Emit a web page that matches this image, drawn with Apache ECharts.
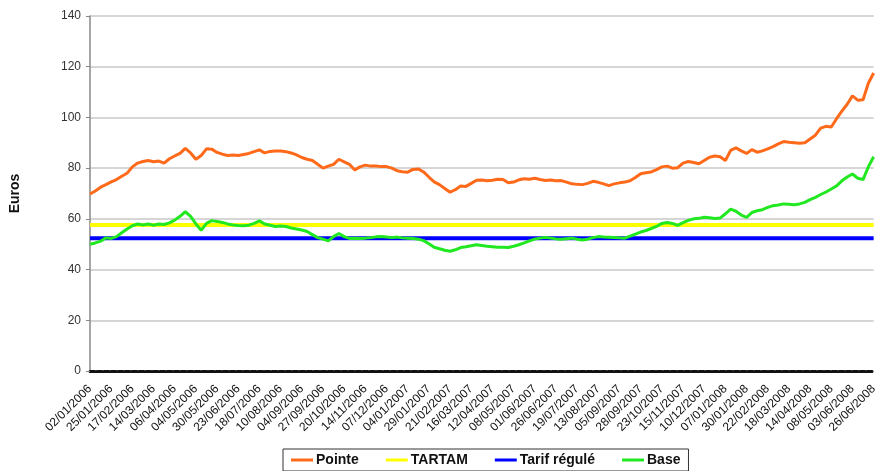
<!DOCTYPE html>
<html>
<head>
<meta charset="utf-8">
<script src="https://cdn.jsdelivr.net/npm/echarts@6/dist/echarts.min.js"></script>
<style>
html,body{margin:0;padding:0;background:#fff;}
#chart{width:880px;height:471px;}
</style>
</head>
<body>
<div id="chart"></div>
<script>
// Tick labels along the x axis (one every 4 samples)
var tickLabels = ["02/01/2006","25/01/2006","17/02/2006","14/03/2006","06/04/2006","04/05/2006","30/05/2006","23/06/2006","18/07/2006","10/08/2006","04/09/2006","27/09/2006","20/10/2006","14/11/2006","07/12/2006","04/01/2007","29/01/2007","21/02/2007","16/03/2007","12/04/2007","08/05/2007","01/06/2007","26/06/2007","19/07/2007","13/08/2007","05/09/2007","28/09/2007","23/10/2007","15/11/2007","10/12/2007","07/01/2008","30/01/2008","22/02/2008","18/03/2008","14/04/2008","08/05/2008","03/06/2008","26/06/2008"];
var samplesPerLabel = 4;

var seriesNames = ["Pointe","TARTAM","Tarif régulé","Base"];

var pointe = [69.8,71,72.5,73.5,74.6,75.5,76.8,78,80.5,82,82.6,83,82.5,82.8,82,83.7,84.8,85.8,87.8,86,83.5,85,87.6,87.5,86.2,85.5,85,85.2,85,85.4,85.8,86.5,87.2,86,86.6,86.8,86.8,86.5,86,85.2,84.2,83.5,83,81.5,80,80.8,81.5,83.5,82.5,81.5,79.3,80.5,81.2,80.8,80.8,80.6,80.6,80,79,78.6,78.4,79.5,79.7,78.5,76.5,74.6,73.5,72,70.5,71.5,73,72.8,74,75.2,75.3,75,75.2,75.6,75.5,74.2,74.5,75.4,75.8,75.6,76,75.5,75.1,75.3,75,75.1,74.5,73.8,73.6,73.5,74,74.8,74.4,73.8,73.1,73.8,74.2,74.5,75,76.3,77.8,78.2,78.5,79.4,80.5,80.8,80,80.2,82,82.6,82.2,81.7,83,84.3,84.8,84.5,83,87,88,86.8,85.8,87.3,86.3,86.8,87.6,88.5,89.6,90.5,90.2,90,89.8,90,91.5,93,95.8,96.5,96.2,99.5,102.5,105.2,108.5,106.8,107,113.5,117.5];

var base = [50,50.5,51.2,52.5,52.3,53,54.5,56,57.3,58,57.6,58,57.5,58,57.8,58.4,59.5,61,62.8,61,58,55.5,58.2,59.3,59,58.6,58,57.6,57.4,57.3,57.5,58.2,59.2,58,57.5,57,57.2,57,56.4,56,55.6,55,53.8,52.6,52,51.3,53,54.2,53,52.3,52.4,52.3,52.4,52.6,52.9,53,52.8,52.6,52.8,52.5,52.4,52.3,52,51.4,50.2,48.8,48.2,47.6,47.2,47.8,48.7,49,49.4,49.8,49.5,49.2,49,48.8,48.8,48.7,49.2,49.8,50.5,51.3,52,52.4,52.7,52.4,52.1,52,52.2,52.4,52,51.7,52,52.6,53,52.8,52.7,52.6,52.5,52.4,53.2,54,54.8,55.4,56.2,57,58.2,58.6,58.2,57.4,58.5,59.4,60,60.2,60.6,60.4,60.1,60.3,62,63.8,63,61.5,60.6,62.5,63.2,63.6,64.5,65.2,65.5,65.9,65.8,65.6,65.9,66.5,67.6,68.5,69.6,70.6,71.8,73,75,76.5,77.7,76,75.5,80.5,84.5];

var tartamValue = 57.6;
var tarifRegule = 52.4;

var lastIdx = (tickLabels.length - 1) * samplesPerLabel;
function toPairs(arr){ return arr.map(function(v,i){ return [i, v]; }); }
function flat(v){ return [[0, v], [lastIdx, v]]; }

var chart = echarts.init(document.getElementById('chart'), null, {renderer:'canvas'});
var font = 'Liberation Sans, Arial, sans-serif';
chart.setOption({
  animation: false,
  backgroundColor: '#ffffff',
  grid: {left: 90, right: 2, top: 16, bottom: 100},
  legend: {
    data: seriesNames,
    top: 449, left: 283,
    itemWidth: 22, itemHeight: 3, itemGap: 27,
    icon: 'rect',
    padding: [4, 8],
    borderColor: '#333', borderWidth: 1,
    backgroundColor: '#fff',
    textStyle: {fontFamily: font, fontSize: 14, fontWeight: 'bold', color: '#111', padding: [0,0,0,-2]}
  },
  xAxis: {
    type: 'value', min: 0, max: lastIdx, interval: samplesPerLabel,
    axisLine: {lineStyle: {color: '#111', width: 3, type: [5, 2]}},
    axisTick: {show: false},
    splitLine: {show: false},
    axisLabel: {
      rotate: 45, fontSize: 12, fontFamily: font, color: '#111', margin: 16,
      showMinLabel: true, showMaxLabel: true,
      formatter: function(v){ return tickLabels[Math.round(v / samplesPerLabel)] || ''; }
    }
  },
  yAxis: {
    type: 'value', min: 0, max: 140, interval: 20,
    name: 'Euros', nameLocation: 'middle', nameRotate: 90, nameGap: 68,
    nameTextStyle: {fontFamily: font, fontSize: 14, fontWeight: 'bold', color: '#111'},
    axisLine: {show: true, lineStyle: {color: '#888', width: 1.5}},
    axisTick: {show: true, length: 4, lineStyle: {color: '#888'}},
    axisLabel: {fontFamily: font, fontSize: 12, color: '#333', margin: 9},
    splitLine: {show: true, lineStyle: {color: '#d6d6d6', width: 2}}
  },
  series: [
    {name: seriesNames[0], type: 'line', data: toPairs(pointe), showSymbol: false, symbol: 'none',
     lineStyle: {color: '#FF6A1A', width: 3}, itemStyle: {color: '#FF6A1A'}},
    {name: seriesNames[1], type: 'line', data: flat(tartamValue), showSymbol: false, symbol: 'none',
     lineStyle: {color: '#FFFF00', width: 4}, itemStyle: {color: '#FFFF00'}},
    {name: seriesNames[2], type: 'line', data: flat(tarifRegule), showSymbol: false, symbol: 'none',
     lineStyle: {color: '#0000FF', width: 4}, itemStyle: {color: '#0000FF'}},
    {name: seriesNames[3], type: 'line', data: toPairs(base), showSymbol: false, symbol: 'none',
     lineStyle: {color: '#22E822', width: 3}, itemStyle: {color: '#22E822'}}
  ]
});
</script>
</body>
</html>
